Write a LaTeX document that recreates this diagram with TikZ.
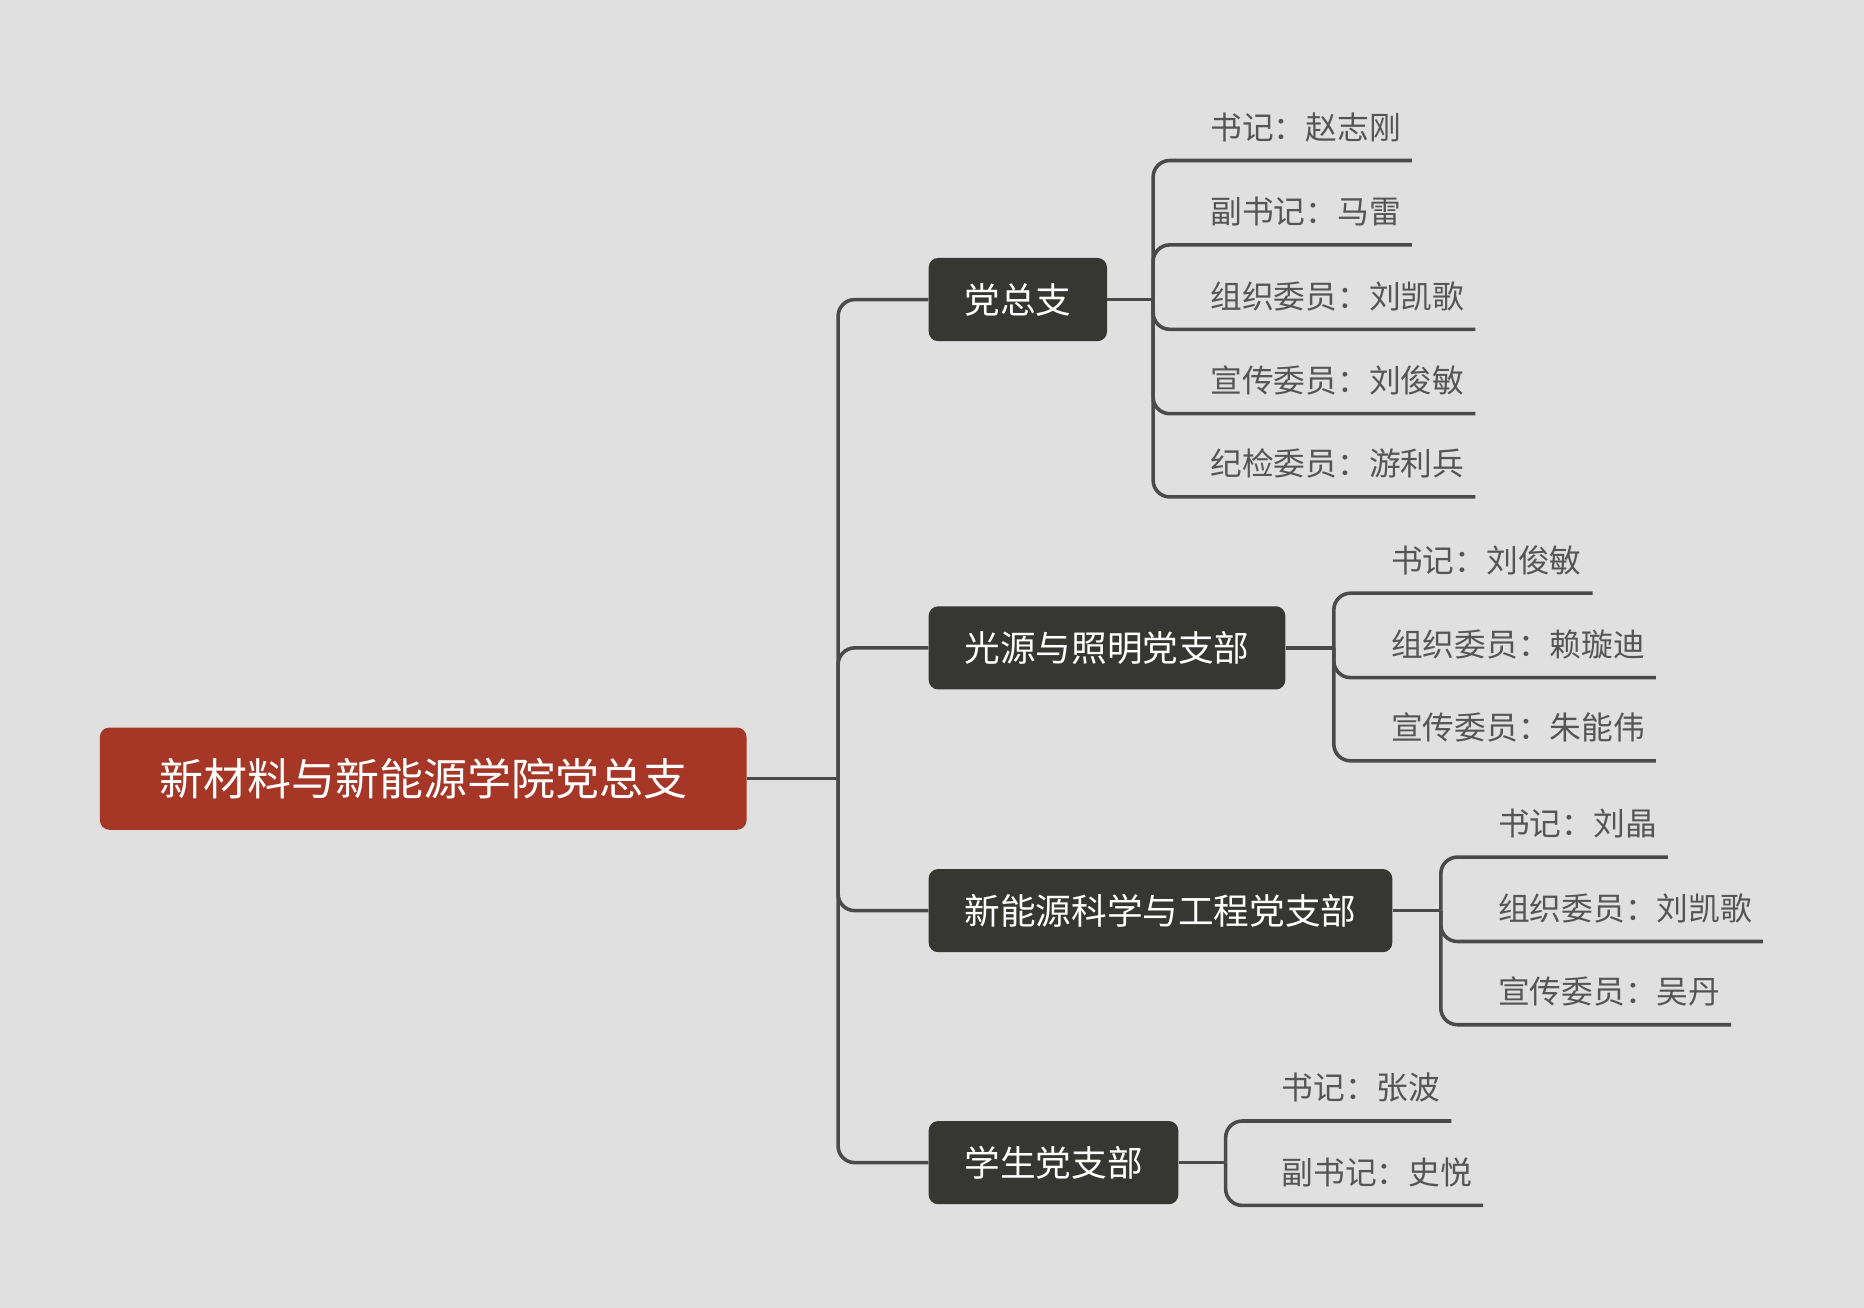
\documentclass[tikz,border=0pt]{standalone}
\usepackage{fontspec}
\setmainfont{Noto Sans CJK SC}
\definecolor{bgc}{RGB}{224,224,224}
\definecolor{rootred}{RGB}{166,54,38}
\definecolor{branchdark}{RGB}{54,55,51}
\definecolor{linec}{RGB}{74,74,74}
\definecolor{leaftext}{RGB}{85,85,85}
\begin{document}
\begin{tikzpicture}[x=1pt,y=-1pt,
  rootbox/.style={fill=rootred,text=white,rounded corners=8pt,font=\fontsize{37}{40}\selectfont,minimum width=544pt,minimum height=86pt,inner sep=0pt},
  branchbox/.style={fill=branchdark,text=white,rounded corners=8pt,font=\fontsize{30}{34}\selectfont,minimum height=70pt,inner xsep=30pt,inner ysep=0pt,anchor=west},
  leafbox/.style={text=leaftext,font=\fontsize{26.7}{30}\selectfont,inner sep=0pt,anchor=west},
  conn/.style={draw=linec,line width=3pt},
  rconn/.style={conn,rounded corners=14pt}]
\fill[bgc] (0,0) rectangle (1568,1100);
\useasboundingbox (0,0) rectangle (1568,1100);
% root
\node[rootbox] (root) at (356,655) {新材料与新能源学院党总支};
\coordinate (t0) at (705,655);
% branches
\node[branchbox] (b1) at (781,252) {党总支};
\node[branchbox] (b2) at (781,545) {光源与照明党支部};
\node[branchbox] (b3) at (781,766) {新能源科学与工程党支部};
\node[branchbox] (b4) at (781,978) {学生党支部};
\draw[conn] (root.east) -- (t0);
\foreach \b in {b1,b2,b3,b4} \draw[rconn] (t0) |- (\b.west);
% junctions
\coordinate (j1) at (970,252);
\coordinate (j2) at (1122,545);
\coordinate (j3) at (1212,766);
\coordinate (j4) at (1031,978);
\draw[conn] (b1.east) -- (j1);
\draw[conn] (b2.east) -- (j2);
\draw[conn] (b3.east) -- (j3);
\draw[conn] (b4.east) -- (j4);
% leaves group 1
\node[leafbox] (l11) at (1018,107) {书记：赵志刚};
\node[leafbox] (l12) at (1018,178) {副书记：马雷};
\node[leafbox] (l13) at (1018,249) {组织委员：刘凯歌};
\node[leafbox] (l14) at (1018,320) {宣传委员：刘俊敏};
\node[leafbox] (l15) at (1018,390) {纪检委员：游利兵};
\foreach \l in {l11,l12,l13,l14,l15} \draw[rconn] (j1) |- ([xshift=9pt,yshift=-28pt]\l.east);
% leaves group 2
\node[leafbox] (l21) at (1170,471) {书记：刘俊敏};
\node[leafbox] (l22) at (1170,542) {组织委员：赖璇迪};
\node[leafbox] (l23) at (1170,612) {宣传委员：朱能伟};
\foreach \l in {l21,l22,l23} \draw[rconn] (j2) |- ([xshift=9pt,yshift=-28pt]\l.east);
% leaves group 3
\node[leafbox] (l31) at (1260,693) {书记：刘晶};
\node[leafbox] (l32) at (1260,764) {组织委员：刘凯歌};
\node[leafbox] (l33) at (1260,834) {宣传委员：吴丹};
\foreach \l in {l31,l32,l33} \draw[rconn] (j3) |- ([xshift=9pt,yshift=-28pt]\l.east);
% leaves group 4
\node[leafbox] (l41) at (1078,915) {书记：张波};
\node[leafbox] (l42) at (1078,986) {副书记：史悦};
\foreach \l in {l41,l42} \draw[rconn] (j4) |- ([xshift=9pt,yshift=-28pt]\l.east);
\end{tikzpicture}
\end{document}
